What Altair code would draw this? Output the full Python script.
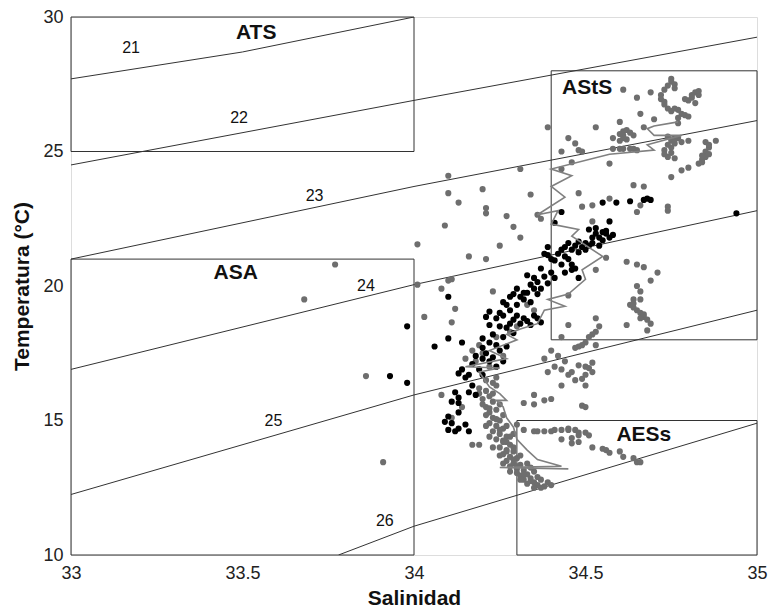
import altair as alt
import pandas as pd

# ---- data ----
iso_levels = ["21", "22", "23", "24", "25", "26"]
iso_lines = {
    "21": [(33.0, 27.7), (33.5, 28.7), (34.0, 30.0)],
    "22": [(33.0, 24.5), (34.0, 26.9), (35.0, 29.25)],
    "23": [(33.0, 21.0), (34.0, 23.7), (35.0, 26.15)],
    "24": [(33.0, 16.9), (34.0, 20.05), (35.0, 22.8)],
    "25": [(33.0, 12.25), (34.0, 15.95), (35.0, 19.1)],
    "26": [(33.78, 10.0), (34.0, 11.07), (35.0, 14.9)],
}
iso_label_pos = [(33.175, 28.85), (33.49, 26.25), (33.71, 23.35),
                 (33.86, 20.0), (33.59, 15.0), (33.915, 11.27)]

box_names = ["ATS", "ASA", "AStS", "AESs"]
box_s1 = [33.0, 33.0, 34.4, 34.3]
box_s2 = [34.0, 34.0, 35.0, 35.0]
box_t1 = [25.0, 10.0, 18.0, 10.0]
box_t2 = [30.0, 21.0, 28.0, 15.0]
box_label_pos = [(33.54, 29.42), (33.48, 20.5), (34.505, 27.35), (34.67, 14.45)]

gray_pts = [
    (34.39, 25.9), (34.45, 25.5), (34.43, 25.0), (34.43, 24.35), (34.10, 24.1), (34.31, 24.35),
    (34.10, 23.45), (34.20, 23.6), (34.13, 23.1), (34.34, 23.4), (34.21, 22.9),
    (34.61, 27.3), (34.65, 27.0), (34.69, 27.2), (34.75, 27.6), (34.76, 27.5), (34.74, 27.45),
    (34.75, 27.7), (34.76, 27.35), (34.73, 27.3),
    (34.72, 27.1), (34.72, 26.95), (34.73, 26.85), (34.74, 26.6), (34.75, 26.5), (34.73, 26.75),
    (34.82, 27.2), (34.81, 27.0), (34.80, 26.9), (34.82, 26.8), (34.83, 27.1), (34.83, 27.25),
    (34.81, 27.1), (34.79, 26.95),
    (34.77, 26.55), (34.78, 26.4), (34.79, 26.35), (34.80, 26.3), (34.76, 26.6),
    (34.66, 26.4), (34.60, 26.1), (34.70, 26.2), (34.77, 26.25), (34.77, 26.05),
    (34.53, 25.9), (34.67, 25.9), (34.61, 25.75), (34.61, 25.6), (34.62, 25.8), (34.64, 25.6),
    (34.62, 25.45), (34.61, 25.5), (34.60, 25.4), (34.58, 25.5), (34.63, 25.7), (34.60, 25.65),
    (34.58, 25.1), (34.60, 25.1), (34.61, 25.1), (34.63, 25.1), (34.64, 25.1), (34.65, 25.05),
    (34.47, 25.3), (34.48, 25.05), (34.49, 25.0), (34.46, 24.6), (34.57, 24.55),
    (34.74, 25.55), (34.75, 25.4), (34.76, 25.3), (34.75, 25.15), (34.73, 25.05), (34.75, 24.95),
    (34.74, 24.8), (34.76, 24.75), (34.77, 25.5), (34.78, 25.35), (34.80, 25.4),
    (34.74, 25.25), (34.76, 25.45), (34.73, 24.9),
    (34.85, 25.35), (34.88, 25.4), (34.86, 25.15), (34.85, 25.0), (34.85, 24.8), (34.84, 24.7),
    (34.83, 24.55), (34.84, 24.6), (34.86, 25.25), (34.86, 24.9), (34.84, 24.85),
    (34.80, 24.4), (34.78, 24.3), (34.75, 24.05), (34.64, 23.75), (34.67, 23.7),
    (34.49, 22.95), (34.52, 23.0), (34.57, 23.25), (34.66, 23.0), (34.74, 22.95),
    (34.65, 22.75), (34.74, 22.8), (34.52, 22.4), (34.36, 22.65), (34.37, 22.5), (34.48, 23.45),
    (34.21, 22.7), (34.27, 22.6), (34.09, 22.25), (34.29, 22.2), (34.31, 21.8), (34.01, 21.55),
    (34.25, 21.5), (34.16, 21.1), (34.21, 21.0), (34.10, 20.2), (34.11, 20.25), (34.01, 20.05),
    (34.08, 19.9), (34.23, 19.8), (34.12, 19.15), (34.03, 18.85), (34.11, 18.65),
    (33.77, 20.8), (33.68, 19.5), (33.86, 16.65), (33.91, 13.45),
    (34.56, 21.05), (34.53, 20.6), (34.62, 20.9), (34.65, 20.8), (34.67, 20.7), (34.71, 20.5), (34.69, 20.2),
    (34.65, 20.0), (34.66, 19.8), (34.66, 19.5), (34.64, 19.5), (34.63, 19.3), (34.64, 19.2),
    (34.65, 19.1), (34.66, 19.0), (34.67, 18.85), (34.68, 18.75), (34.69, 18.6), (34.66, 18.8),
    (34.68, 18.35), (34.62, 18.55), (34.53, 18.8), (34.45, 18.55), (34.64, 19.35), (34.67, 18.95),
    (34.54, 18.5), (34.53, 18.3), (34.52, 18.2), (34.51, 18.1), (34.50, 17.9), (34.49, 17.8),
    (34.48, 17.75), (34.47, 17.7), (34.53, 17.8), (34.45, 19.65), (34.43, 18.1),
    (34.48, 17.05), (34.50, 17.0), (34.51, 16.95), (34.52, 17.15), (34.52, 16.8), (34.50, 16.7),
    (34.49, 16.55), (34.47, 16.5), (34.46, 16.8), (34.50, 16.3), (34.49, 15.55), (34.50, 15.5),
    (34.39, 16.8), (34.43, 16.3), (34.45, 16.7), (34.35, 15.95), (34.32, 15.65), (34.35, 15.6),
    (34.38, 15.75), (34.40, 15.8),
    (34.40, 17.6), (34.42, 17.4), (34.44, 17.2), (34.41, 17.0), (34.38, 17.3), (34.43, 16.9),
    (34.32, 14.65), (34.36, 14.6), (34.38, 14.6), (34.40, 14.6), (34.43, 14.65), (34.45, 14.7),
    (34.45, 14.65), (34.43, 14.3), (34.27, 14.2), (34.35, 14.6), (34.41, 14.65),
    (34.47, 14.65), (34.48, 14.55), (34.50, 14.55), (34.51, 14.45), (34.46, 14.35), (34.48, 14.45),
    (34.48, 14.2), (34.46, 14.15),
    (34.52, 14.0), (34.55, 13.95), (34.56, 13.9), (34.57, 13.8), (34.60, 13.85), (34.61, 13.65),
    (34.64, 13.6), (34.65, 13.45), (34.66, 13.45),
    (34.08, 15.95), (34.11, 15.1), (34.17, 14.1), (34.19, 14.1), (34.14, 15.5),
    (34.21, 16.1), (34.22, 15.9), (34.20, 15.8), (34.23, 15.7), (34.21, 15.5), (34.24, 15.4),
    (34.22, 15.3), (34.23, 15.1), (34.25, 15.0), (34.22, 14.9), (34.24, 14.8), (34.26, 14.7),
    (34.23, 14.6), (34.25, 14.5), (34.27, 14.4), (34.24, 14.3), (34.26, 14.2), (34.28, 14.1),
    (34.25, 14.0), (34.27, 13.9), (34.29, 13.85), (34.26, 13.75), (34.28, 13.65), (34.30, 13.6),
    (34.27, 13.5), (34.29, 13.4), (34.31, 13.35), (34.28, 13.3), (34.30, 13.2), (34.32, 13.15),
    (34.30, 13.05), (34.33, 13.0), (34.31, 12.95), (34.34, 12.85), (34.32, 12.8), (34.35, 12.7),
    (34.33, 12.65), (34.36, 12.6), (34.37, 12.5), (34.38, 12.55), (34.35, 12.5),
    (34.19, 16.0), (34.23, 16.0), (34.20, 15.6), (34.25, 15.6), (34.21, 15.2), (34.26, 15.2),
    (34.21, 14.8), (34.27, 14.8), (34.22, 14.4), (34.28, 14.4), (34.23, 14.0), (34.29, 14.0),
    (34.25, 13.7), (34.31, 13.7), (34.26, 13.4), (34.33, 13.4), (34.28, 13.1), (34.35, 13.1),
    (34.31, 12.8), (34.37, 12.8), (34.40, 12.6), (34.39, 12.7), (34.36, 12.9), (34.34, 13.25),
    (34.22, 15.45), (34.24, 15.05), (34.25, 14.65), (34.26, 14.25), (34.27, 13.85), (34.29, 13.55),
    (34.30, 13.3), (34.32, 13.0), (34.34, 12.75),
    (34.21, 16.5), (34.23, 16.4), (34.19, 16.2), (34.24, 16.6), (34.20, 17.5), (34.18, 17.2),
    (34.22, 17.0), (34.26, 17.4), (34.17, 17.6), (34.15, 17.3), (34.19, 17.8), (34.24, 16.3),
    (34.35, 19.1), (34.33, 19.3), (34.28, 18.3), (34.30, 18.5), (34.24, 18.1),
    (34.29, 14.5), (34.30, 14.85),
]

black_pts = [
    (34.55, 23.1), (34.59, 23.1), (34.63, 23.15), (34.68, 23.25), (34.69, 23.2), (34.67, 23.2),
    (34.57, 22.4), (34.94, 22.7), (34.43, 22.75), (34.41, 22.35),
    (34.51, 22.1), (34.53, 22.15), (34.55, 22.0), (34.56, 21.95), (34.58, 21.9), (34.54, 21.8),
    (34.52, 21.8), (34.55, 21.7), (34.57, 21.8), (34.53, 21.95), (34.56, 22.05),
    (34.45, 21.6), (34.48, 21.65), (34.49, 21.45), (34.46, 21.35), (34.48, 21.25), (34.50, 21.6),
    (34.50, 21.35), (34.47, 21.5), (34.44, 21.45), (34.51, 21.5), (34.52, 21.6), (34.54, 21.5),
    (34.46, 20.8), (34.47, 20.65), (34.46, 20.6), (34.48, 20.3), (34.45, 21.0),
    (34.38, 21.2), (34.39, 21.15), (34.43, 21.35), (34.44, 21.1), (34.41, 20.95), (34.39, 21.45),
    (34.42, 21.2), (34.40, 21.0), (34.43, 20.8), (34.44, 20.5), (34.41, 20.3),
    (34.33, 20.4), (34.36, 20.15), (34.34, 20.05), (34.37, 20.65), (34.38, 20.35), (34.36, 19.7),
    (34.39, 20.1), (34.35, 20.3), (34.40, 20.5), (34.37, 19.9),
    (34.30, 19.9), (34.32, 19.75), (34.33, 19.75), (34.35, 19.9), (34.31, 19.6), (34.28, 19.6),
    (34.30, 19.3), (34.32, 19.5), (34.29, 19.7), (34.34, 19.4),
    (34.32, 18.8), (34.35, 18.9), (34.37, 18.65), (34.34, 18.55), (34.33, 18.7), (34.36, 18.8),
    (34.31, 18.6), (34.30, 18.9), (34.28, 18.6),
    (34.26, 19.4), (34.27, 19.3), (34.22, 19.05), (34.21, 18.85), (34.24, 18.8), (34.29, 18.75),
    (34.22, 18.55), (34.25, 18.5), (34.27, 18.45), (34.29, 18.25), (34.20, 18.05), (34.22, 17.9),
    (34.24, 17.8), (34.27, 17.75), (34.26, 18.9), (34.28, 19.1), (34.25, 19.0),
    (34.23, 18.2), (34.26, 18.1),
    (34.10, 19.6), (33.98, 18.5), (34.10, 18.05), (34.06, 17.75), (34.14, 17.9),
    (33.93, 16.65), (33.98, 16.4),
    (34.21, 17.5), (34.23, 17.35), (34.25, 17.6), (34.26, 17.2), (34.22, 17.2), (34.24, 17.0), (34.20, 17.3),
    (34.18, 17.4), (34.20, 17.7),
    (34.17, 17.1), (34.14, 16.9), (34.16, 16.7), (34.15, 16.6), (34.13, 16.75), (34.20, 16.7),
    (34.19, 16.9), (34.17, 16.3), (34.16, 16.05), (34.18, 15.95), (34.12, 16.05), (34.13, 15.85),
    (34.11, 15.7), (34.13, 15.65), (34.13, 15.3), (34.10, 15.15), (34.09, 14.95), (34.11, 14.9),
    (34.10, 14.65), (34.13, 14.7), (34.15, 14.85), (34.16, 14.6), (34.12, 14.6),
]

profile_pts = [
    (34.77, 26.1), (34.70, 25.95), (34.68, 25.85), (34.70, 25.6), (34.78, 25.6), (34.68, 25.25),
    (34.70, 25.05), (34.57, 24.9), (34.40, 24.35), (34.46, 24.1), (34.40, 23.7), (34.44, 23.3),
    (34.36, 22.65), (34.42, 22.8), (34.40, 22.3), (34.48, 22.1), (34.46, 21.85), (34.55, 21.1),
    (34.49, 20.6), (34.50, 20.25), (34.45, 19.7), (34.39, 19.5), (34.44, 19.25), (34.38, 19.1),
    (34.36, 18.6), (34.31, 18.4), (34.27, 18.2), (34.30, 18.0), (34.22, 17.6), (34.27, 17.3),
    (34.15, 17.0), (34.25, 16.95), (34.19, 16.8), (34.22, 16.25), (34.25, 16.0), (34.27, 15.75),
    (34.24, 15.75), (34.26, 15.5), (34.27, 15.1), (34.29, 14.75), (34.30, 14.3), (34.33, 13.9),
    (34.36, 13.55), (34.43, 13.3), (34.25, 13.25), (34.45, 13.2),
]

# ---- build tables ----
iso_rows = []
for lev in iso_levels:
    for i, (s, t) in enumerate(iso_lines[lev]):
        iso_rows.append({"lev": lev, "i": i, "S": s, "T": t})
iso_df = pd.DataFrame(iso_rows)
iso_lab_df = pd.DataFrame({"lev": iso_levels,
                           "S": [p[0] for p in iso_label_pos],
                           "T": [p[1] for p in iso_label_pos]})
box_df = pd.DataFrame({"name": box_names, "s1": box_s1, "s2": box_s2, "t1": box_t1, "t2": box_t2})
box_lab_df = pd.DataFrame({"name": box_names,
                           "S": [p[0] for p in box_label_pos],
                           "T": [p[1] for p in box_label_pos]})
gray_df = pd.DataFrame(gray_pts, columns=["S", "T"])
black_df = pd.DataFrame(black_pts, columns=["S", "T"])
prof_df = pd.DataFrame(profile_pts, columns=["S", "T"])
prof_df["i"] = range(len(prof_df))

FONT = "Liberation Sans"
xs = alt.Scale(domain=[33, 35], nice=False, zero=False)
ys = alt.Scale(domain=[10, 30], nice=False, zero=False)
X = alt.X("S:Q", scale=xs, title="Salinidad",
          axis=alt.Axis(values=[33, 33.5, 34, 34.5, 35], format="~g", grid=False, ticks=False,
                        labelFontSize=18, labelPadding=9, titleFontSize=21, titlePadding=5,
                        titleFontWeight="bold", domain=False, labelColor="#222", titleColor="#111",
                        labelFlush=False))
Y = alt.Y("T:Q", scale=ys, title="Temperatura (°C)",
          axis=alt.Axis(values=[10, 15, 20, 25, 30], format="~g", grid=False, ticks=False,
                        labelFontSize=18, labelPadding=8, titleFontSize=21, titlePadding=10,
                        titleFontWeight="bold", domain=False, labelColor="#222", titleColor="#111",
                        labelFlush=False))

iso = alt.Chart(iso_df).mark_line(color="#333", strokeWidth=1, clip=True).encode(
    x=X, y=Y, detail="lev:N", order="i:Q")
iso_txt = alt.Chart(iso_lab_df).mark_text(fontSize=16, font=FONT, color="#111").encode(
    x=alt.X("S:Q", scale=xs), y=alt.Y("T:Q", scale=ys), text="lev:N")
boxes = alt.Chart(box_df).mark_rect(fillOpacity=0, stroke="#333", strokeWidth=1).encode(
    x=alt.X("s1:Q", scale=xs), x2="s2:Q", y=alt.Y("t1:Q", scale=ys), y2="t2:Q")
box_txt = alt.Chart(box_lab_df).mark_text(fontSize=21, font=FONT, fontWeight="bold", color="#111").encode(
    x=alt.X("S:Q", scale=xs), y=alt.Y("T:Q", scale=ys), text="name:N")
gray = alt.Chart(gray_df).mark_circle(size=38, color="#6e6e6e", opacity=1).encode(
    x=alt.X("S:Q", scale=xs), y=alt.Y("T:Q", scale=ys))
black = alt.Chart(black_df).mark_circle(size=38, color="#000", opacity=1).encode(
    x=alt.X("S:Q", scale=xs), y=alt.Y("T:Q", scale=ys))
prof = alt.Chart(prof_df).mark_line(color="#808080", strokeWidth=1.6).encode(
    x=alt.X("S:Q", scale=xs), y=alt.Y("T:Q", scale=ys), order="i:Q")

chart = alt.layer(iso, boxes, gray, black, prof, iso_txt, box_txt).properties(
    width=686, height=538,
    autosize=alt.AutoSizeParams(type="none"),
    padding={"left": 71, "top": 17, "right": 11, "bottom": 60},
).configure_view(stroke="#555", strokeWidth=1.2).configure_axis(
    labelFont=FONT, titleFont=FONT).configure(background="white")

chart.save("out.html", embed_options={"renderer": "svg", "actions": False})
